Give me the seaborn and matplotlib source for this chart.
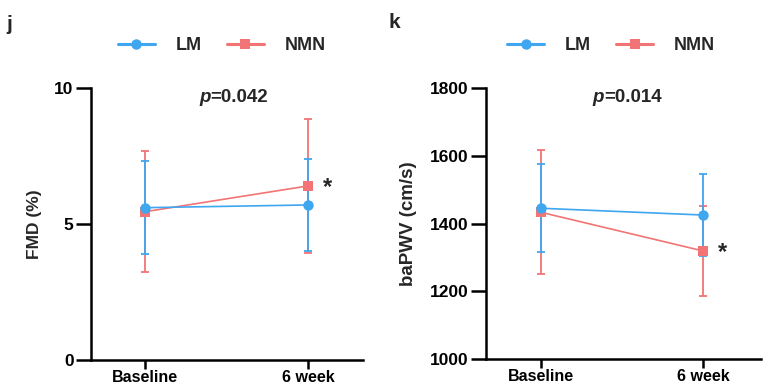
import matplotlib
matplotlib.use("Agg")
import matplotlib.pyplot as plt
import seaborn as sns
import pandas as pd
from matplotlib.lines import Line2D

# ---- data ----
timepoints = ["Baseline", "6 week"]
groups = ["LM", "NMN"]

fmd_lm_mean = [5.6, 5.7]
fmd_lm_sd = [1.7, 1.68]
fmd_nmn_mean = [5.45, 6.4]
fmd_nmn_sd = [2.22, 2.45]
fmd_p = "=0.042"

pwv_lm_mean = [1445, 1425]
pwv_lm_sd = [130, 120]
pwv_nmn_mean = [1433, 1319]
pwv_nmn_sd = [183, 134]
pwv_p = "=0.014"

fmd_ticks = [0, 5, 10]
pwv_ticks = [1000, 1200, 1400, 1600, 1800]

blue = "#3FA6F0"
red = "#F27474"

sns.set_theme(style="ticks")
plt.rcParams["font.family"] = ["Liberation Sans", "DejaVu Sans"]
plt.rcParams["font.weight"] = "bold"
plt.rcParams["axes.labelweight"] = "bold"

fig = plt.figure(figsize=(7.68, 3.92), dpi=100)
W, H = 768, 392


def make_df(lm_mean, lm_sd, nmn_mean, nmn_sd):
    rows = []
    for g, m, s in (("NMN", nmn_mean, nmn_sd), ("LM", lm_mean, lm_sd)):
        for i, t in enumerate(timepoints):
            rows.append({"group": g, "pos": i, "time": t, "mean": m[i], "sd": s[i]})
    return pd.DataFrame(rows)


def panel(rect_px, df, ylim, yticks, ylabel, ylabel_size, xlim, label_x, ptext, pcenter,
          leg_center, letter, letter_xy):
    x0, x1, ytop, ybot = rect_px
    ax = fig.add_axes([x0 / W, 1 - ybot / H, (x1 - x0) / W, (ybot - ytop) / H])
    pal = {"LM": blue, "NMN": red}
    marks = {"LM": "o", "NMN": "s"}
    for g in ["NMN", "LM"]:
        sub = df[df.group == g]
        ax.errorbar(sub["pos"], sub["mean"], yerr=sub["sd"], fmt="none",
                    ecolor=pal[g], elinewidth=1.3, capsize=3, capthick=1.3, zorder=2)
        sns.lineplot(data=sub, x="pos", y="mean", color=pal[g], marker=marks[g],
                     markersize=7.5 if g == "LM" else 7, markeredgewidth=0,
                     linewidth=1.2, ax=ax, zorder=3, legend=False)
    ax.set_xlim(*xlim)
    ax.set_ylim(*ylim)
    ax.set_yticks(yticks)
    ax.set_yticklabels([str(v) for v in yticks], fontsize=12.5, fontweight="bold")
    ax.set_xticks([0, 1])
    ax.set_xticklabels(timepoints, fontsize=11.5, fontweight="bold")
    ax.set_xlabel("")
    ax.set_ylabel(ylabel, fontsize=ylabel_size, fontweight="bold")
    ax.yaxis.set_label_coords(label_x, 0.5)
    for s in ("top", "right"):
        ax.spines[s].set_visible(False)
    for s in ("left", "bottom"):
        ax.spines[s].set_linewidth(1.8)
        ax.spines[s].set_color("black")
    ax.tick_params(axis="y", length=10.5, width=1.8, color="black", labelcolor="black", pad=2)
    ax.tick_params(axis="x", length=6.5, width=1.8, color="black", labelcolor="black", pad=1)
    # p-value
    ax.text(pcenter, 0.965, "p", transform=ax.transAxes, ha="right", va="center",
            fontsize=13.5, fontweight="bold", style="italic")
    ax.text(pcenter, 0.965, ptext, transform=ax.transAxes, ha="left", va="center",
            fontsize=13.5, fontweight="bold")
    # asterisk next to NMN 6 week
    nmn = df[(df.group == "NMN") & (df.pos == 1)]
    ax.annotate("*", (1, float(nmn["mean"].iloc[0])), xytext=(11, -1), textcoords="offset points",
                ha="left", va="center", fontsize=17, fontweight="bold")
    # legend
    handles = [Line2D([], [], color=blue, marker="o", markersize=7.5, lw=2.2, markeredgewidth=0),
               Line2D([], [], color=red, marker="s", markersize=7, lw=2.2, markeredgewidth=0)]
    ax.legend(handles, groups, loc="center", bbox_to_anchor=(leg_center, 1.155), ncol=2,
              frameon=False, prop={"size": 13, "weight": "bold"}, handlelength=2.05,
              handletextpad=1.15, columnspacing=1.4)
    fig.text(letter_xy[0] / W, 1 - letter_xy[1] / H, letter, fontsize=15, fontweight="bold",
             ha="left", va="center")
    return ax


df1 = make_df(fmd_lm_mean, fmd_lm_sd, fmd_nmn_mean, fmd_nmn_sd)
df2 = make_df(pwv_lm_mean, pwv_lm_sd, pwv_nmn_mean, pwv_nmn_sd)

panel((91, 363, 88, 360), df1, (0, 10), fmd_ticks, "FMD (%)", 12.5, (-0.33, 1.337), -0.18,
      fmd_p, 0.44, 0.48, "j", (6, 24))
panel((486, 761, 88, 359), df2, (1000, 1800), pwv_ticks, "baPWV (cm/s)", 13.5, (-0.34, 1.358), -0.25,
      pwv_p, 0.43, 0.455, "k", (389, 23))

fig.savefig("out.png", dpi=100)
